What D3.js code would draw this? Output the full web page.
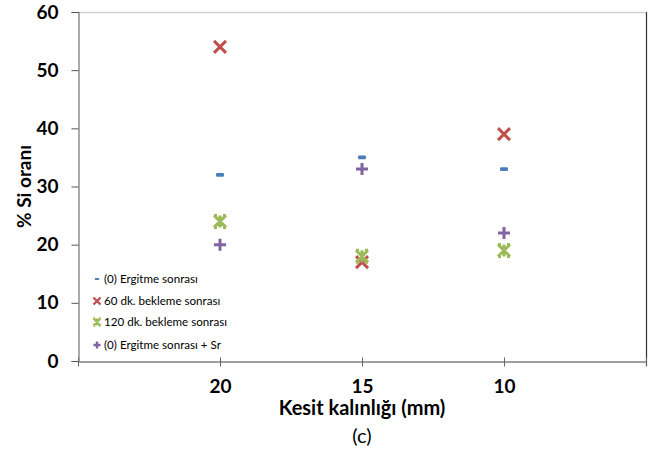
<!DOCTYPE html>
<html><head><meta charset="utf-8">
<script src="https://cdn.jsdelivr.net/npm/d3@7"></script>
<style>body{margin:0;background:#fff}svg{display:block}text{font-family:Lato,"Open Sans",sans-serif}</style>
</head><body>
<svg id="c" width="656" height="454"></svg>
<script>
const categories = ["20", "15", "10"];
const yTicks = [0, 10, 20, 30, 40, 50, 60];
const seriesNames = ["(0) Ergitme sonrası", "60 dk. bekleme sonrası", "120 dk. bekleme sonrası", "(0) Ergitme sonrası + Sr"];
const ergitme = [32, 35, 33];
const bekleme60 = [54, 17, 39];
const bekleme120 = [24, 18, 19];
const ergitmeSr = [20, 33, 22];

const series = [
  {name: seriesNames[0], values: ergitme, color: "#4a7ebb", shape: "dash"},
  {name: seriesNames[1], values: bekleme60, color: "#c0504d", shape: "x"},
  {name: seriesNames[2], values: bekleme120, color: "#9bbb59", shape: "star"},
  {name: seriesNames[3], values: ergitmeSr, color: "#8064a2", shape: "plus"}
];

const svg = d3.select("#c");
const L = 78, R = 646, T = 12, B = 361;
const x = d3.scaleLinear().domain([0, categories.length + 1]).range([L, R]);
const y = d3.scaleLinear().domain([0, 60]).range([B, T]);

// top border (light)
svg.append("line").attr("x1", L).attr("x2", R).attr("y1", T + 0.5).attr("y2", T + 0.5)
  .attr("stroke", "#d0d0d0").attr("stroke-width", 1.5);
// right border
svg.append("line").attr("x1", R + 0.5).attr("x2", R + 0.5).attr("y1", T).attr("y2", B + 5)
  .attr("stroke", "#333").attr("stroke-width", 1.2);

// y axis
const yAxis = svg.append("g").attr("transform", `translate(${L + 0.5},0)`)
  .call(d3.axisLeft(y).tickValues(yTicks).tickSize(7).tickPadding(13));
yAxis.select(".domain").attr("stroke", "#555").attr("stroke-width", 1);
yAxis.selectAll(".tick line").attr("stroke", "#555");
yAxis.selectAll("text").attr("font-size", 19).attr("font-weight", "bold").attr("fill", "#000")
  .attr("font-family", "Lato, sans-serif");

// x axis
const xAxis = svg.append("g").attr("transform", `translate(0,${B + 0.5})`)
  .call(d3.axisBottom(x).tickValues(d3.range(0, categories.length + 2))
    .tickFormat(i => (i >= 1 && i <= categories.length) ? categories[i - 1] : "")
    .tickSize(5).tickSizeOuter(0).tickPadding(13));
xAxis.select(".domain").attr("stroke", "#808080").attr("stroke-width", 1.5);
xAxis.selectAll(".tick line").attr("stroke", "#666").attr("y1", -4);
xAxis.selectAll("text").attr("font-size", 19).attr("font-weight", "bold").attr("fill", "#000")
  .attr("font-family", "Lato, sans-serif");

// axis titles
svg.append("text").attr("transform", `translate(31,${(T + B) / 2}) rotate(-90)`)
  .attr("text-anchor", "middle").attr("font-size", 19).attr("font-weight", "bold").text("% Si oranı");
svg.append("text").attr("x", x(2)).attr("y", 415).attr("text-anchor", "middle")
  .attr("font-size", 20).attr("font-weight", "bold").text("Kesit kalınlığı (mm)");
svg.append("text").attr("x", x(2)).attr("y", 443).attr("text-anchor", "middle")
  .attr("font-size", 20).text("(c)");

function marker(g, shape, color, s) {
  const sw = s > 8 ? 3 : 2.4;
  if (shape === "dash") {
    g.append("rect").attr("x", -s * 0.33).attr("y", -s * 0.16).attr("width", s * 0.66).attr("height", s * 0.32)
      .attr("rx", 1).attr("fill", color);
  } else if (shape === "x") {
    g.append("path").attr("d", `M${-s/2},${-s/2}L${s/2},${s/2}M${s/2},${-s/2}L${-s/2},${s/2}`)
      .attr("stroke", color).attr("stroke-width", sw);
  } else if (shape === "star") {
    g.append("path").attr("d", `M${-s/2},${-s/2}L${s/2},${s/2}M${s/2},${-s/2}L${-s/2},${s/2}M0,${-s/2}L0,${s/2}M${-s/2},${-s/2}L${-s/4},${-s/2}M${s/4},${-s/2}L${s/2},${-s/2}M${-s/2},${s/2}L${-s/4},${s/2}M${s/4},${s/2}L${s/2},${s/2}`)
      .attr("stroke", color).attr("stroke-width", sw);
  } else if (shape === "plus") {
    g.append("path").attr("d", `M${-s/2},0L${s/2},0M0,${-s/2}L0,${s/2}`)
      .attr("stroke", color).attr("stroke-width", sw);
  }
}

series.forEach(sr => {
  sr.values.forEach((v, i) => {
    const g = svg.append("g").attr("transform", `translate(${x(i + 1)},${y(v)})`);
    marker(g, sr.shape, sr.color, 12);
  });
});

// legend
const legendY = [279, 301, 322, 345];
series.forEach((sr, i) => {
  const yy = legendY[i];
  const g = svg.append("g").attr("transform", `translate(97,${yy})`);
  marker(g, sr.shape, sr.color, 7);
  svg.append("text").attr("x", 104).attr("y", yy + 4).attr("font-size", 11.6)
    .attr("font-family", "Lato, sans-serif").attr("fill", "#000").text(sr.name);
});
</script>
</body></html>
